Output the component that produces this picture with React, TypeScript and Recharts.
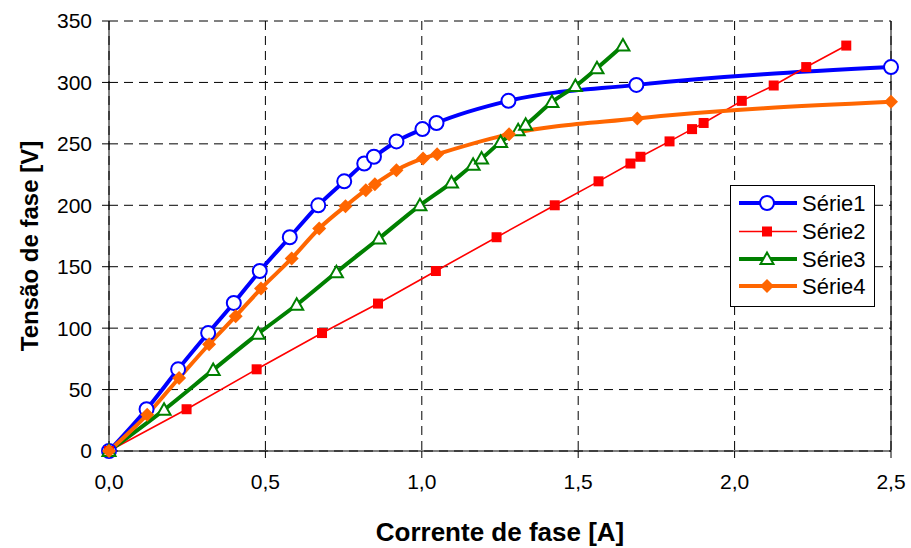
import React from 'react';
import { LineChart, Line, XAxis, YAxis, CartesianGrid, ReferenceLine, Legend, Label } from 'recharts';

const FONT = '"Liberation Sans", Arial, Helvetica, sans-serif';

// Corrente de fase [A] / Tensão de fase [V] for each series
const serie1Corrente = [0, 0.12, 0.221, 0.317, 0.399, 0.482, 0.578, 0.669, 0.752, 0.816, 0.847, 0.919, 1.002, 1.047, 1.277, 1.686, 2.5];
const serie1Tensao = [0, 34, 66.5, 96, 120.5, 146.5, 174, 200, 219.5, 234, 239.5, 252, 262, 267, 285, 298, 312.5];

const serie2Corrente = [0, 0.248, 0.472, 0.681, 0.86, 1.045, 1.239, 1.425, 1.565, 1.667, 1.699, 1.792, 1.864, 1.901, 2.023, 2.125, 2.229, 2.357];
const serie2Tensao = [0, 34, 66.5, 96, 120, 146.5, 174, 200, 219.5, 234, 239.5, 252, 262, 267, 285, 297.5, 312.5, 330];

const serie3Corrente = [0, 0.176, 0.333, 0.477, 0.6, 0.727, 0.863, 0.994, 1.095, 1.164, 1.191, 1.252, 1.308, 1.332, 1.416, 1.491, 1.56, 1.643];
const serie3Tensao = [0, 33.5, 66, 95.5, 119, 145.5, 173, 200, 218.5, 233, 238, 251.5, 261, 265.5, 284, 297, 311.5, 330];

const serie4Corrente = [0, 0.122, 0.224, 0.32, 0.405, 0.486, 0.584, 0.672, 0.756, 0.821, 0.85, 0.919, 1.004, 1.049, 1.279, 1.689, 2.5];
const serie4Tensao = [0, 29.6, 59.4, 86.9, 109.7, 132.2, 156.7, 181.1, 199.3, 212.3, 217.2, 228.6, 238.1, 241.6, 257.9, 270.7, 284.2];

const xTicks = [0, 0.5, 1, 1.5, 2, 2.5];
const yTicks = [0, 50, 100, 150, 200, 250, 300, 350];

const seriesNames = ['Série1', 'Série2', 'Série3', 'Série4'];

const toPoints = (xs: number[], ys: number[]) => xs.map((x, i) => ({ x, y: ys[i] }));

type MarkerKind = 'circle' | 'square' | 'triangle' | 'diamond';

const series = [
  { name: seriesNames[0], data: toPoints(serie1Corrente, serie1Tensao), color: '#0000FF', width: 4, marker: 'circle' as MarkerKind, curve: 'monotone' },
  { name: seriesNames[1], data: toPoints(serie2Corrente, serie2Tensao), color: '#FF0000', width: 1.6, marker: 'square' as MarkerKind, curve: 'linear' },
  { name: seriesNames[2], data: toPoints(serie3Corrente, serie3Tensao), color: '#008000', width: 4, marker: 'triangle' as MarkerKind, curve: 'monotone' },
  { name: seriesNames[3], data: toPoints(serie4Corrente, serie4Tensao), color: '#FF6600', width: 4, marker: 'diamond' as MarkerKind, curve: 'monotone' },
];

function Marker({ kind, cx, cy, color }: { kind: MarkerKind; cx: number; cy: number; color: string }) {
  switch (kind) {
    case 'circle':
      return <circle cx={cx} cy={cy} r={7} fill="#FFFFFF" stroke={color} strokeWidth={2} />;
    case 'square':
      return <rect x={cx - 5} y={cy - 5} width={10} height={10} fill={color} />;
    case 'triangle':
      return (
        <path
          d={`M${cx},${cy - 6.5} L${cx + 6.5},${cy + 5} L${cx - 6.5},${cy + 5} Z`}
          fill="#FFFFFF"
          stroke={color}
          strokeWidth={2}
          strokeLinejoin="miter"
        />
      );
    default:
      return <path d={`M${cx},${cy - 7} L${cx + 7},${cy} L${cx},${cy + 7} L${cx - 7},${cy} Z`} fill={color} />;
  }
}

const formatComma = (v: number) => v.toFixed(1).replace('.', ',');

function LegendBox() {
  const rowY = [18, 46.5, 74, 101];
  return (
    <svg width={145} height={122} style={{ display: 'block' }}>
      <rect x={0.5} y={0.5} width={144} height={121} fill="#FFFFFF" stroke="#000000" strokeWidth={1} />
      {series.map((s, i) => (
        <g key={s.name}>
          <line x1={9} x2={67} y1={rowY[i]} y2={rowY[i]} stroke={s.color} strokeWidth={s.width} />
          <Marker kind={s.marker} cx={37} cy={rowY[i]} color={s.color} />
          <text x={72} y={rowY[i]} dy="0.36em" fontSize={22} fontFamily={FONT} fill="#000000">
            {s.name}
          </text>
        </g>
      ))}
    </svg>
  );
}

export default function App() {
  return (
    <div style={{ position: 'absolute', left: 0, top: 0, width: 911, height: 548, background: '#FFFFFF' }}>
      <LineChart width={911} height={548} margin={{ top: 21, right: 20, bottom: 47, left: 0 }}>
        <CartesianGrid stroke="#000000" strokeDasharray="9 6" strokeWidth={1} />
        <XAxis
          type="number"
          dataKey="x"
          domain={[0, 2.5]}
          ticks={xTicks}
          tickFormatter={formatComma}
          height={50}
          tickSize={7}
          tickMargin={16}
          stroke="#000000"
          tick={{ fontSize: 21, fill: '#000000', fontFamily: FONT }}
          tickLine={{ stroke: '#000000' }}
          allowDecimals
        >
          <Label
            content={(props: any) => {
              const vb = props.viewBox || { x: 109, y: 451, width: 782, height: 50 };
              return (
                <text
                  x={vb.x + vb.width / 2}
                  y={vb.y + 90}
                  textAnchor="middle"
                  fontSize={26}
                  fontWeight="bold"
                  fontFamily={FONT}
                  fill="#000000"
                >
                  Corrente de fase [A]
                </text>
              );
            }}
          />
        </XAxis>
        <YAxis
          type="number"
          dataKey="y"
          domain={[0, 350]}
          ticks={yTicks}
          width={109}
          tickSize={7}
          tickMargin={10}
          stroke="#000000"
          tick={{ fontSize: 21, fill: '#000000', fontFamily: FONT }}
          tickLine={{ stroke: '#000000' }}
        >
          <Label
            content={(props: any) => {
              const vb = props.viewBox || { x: 0, y: 21, width: 109, height: 430 };
              const cx = 38;
              const cy = vb.y + vb.height / 2 + 10;
              return (
                <text
                  x={cx}
                  y={cy}
                  transform={`rotate(-90, ${cx}, ${cy})`}
                  textAnchor="middle"
                  fontSize={24}
                  fontWeight="bold"
                  fontFamily={FONT}
                  fill="#000000"
                >
                  Tensão de fase [V]
                </text>
              );
            }}
          />
        </YAxis>
        <ReferenceLine x={2.5} stroke="#000000" strokeWidth={1} />
        {series.map((s) => (
          <Line
            key={s.name}
            name={s.name}
            data={s.data}
            dataKey="y"
            type={s.curve as any}
            stroke={s.color}
            strokeWidth={s.width}
            isAnimationActive={false}
            activeDot={false}
            dot={(p: any) => (
              <Marker key={`${s.name}-${p.index}`} kind={s.marker} cx={p.cx} cy={p.cy} color={s.color} />
            )}
          />
        ))}
        <Legend
          layout="vertical"
          align="center"
          verticalAlign="middle"
          wrapperStyle={{ left: 730, top: 185, width: 145, height: 122 }}
          content={() => <LegendBox />}
        />
      </LineChart>
    </div>
  );
}
